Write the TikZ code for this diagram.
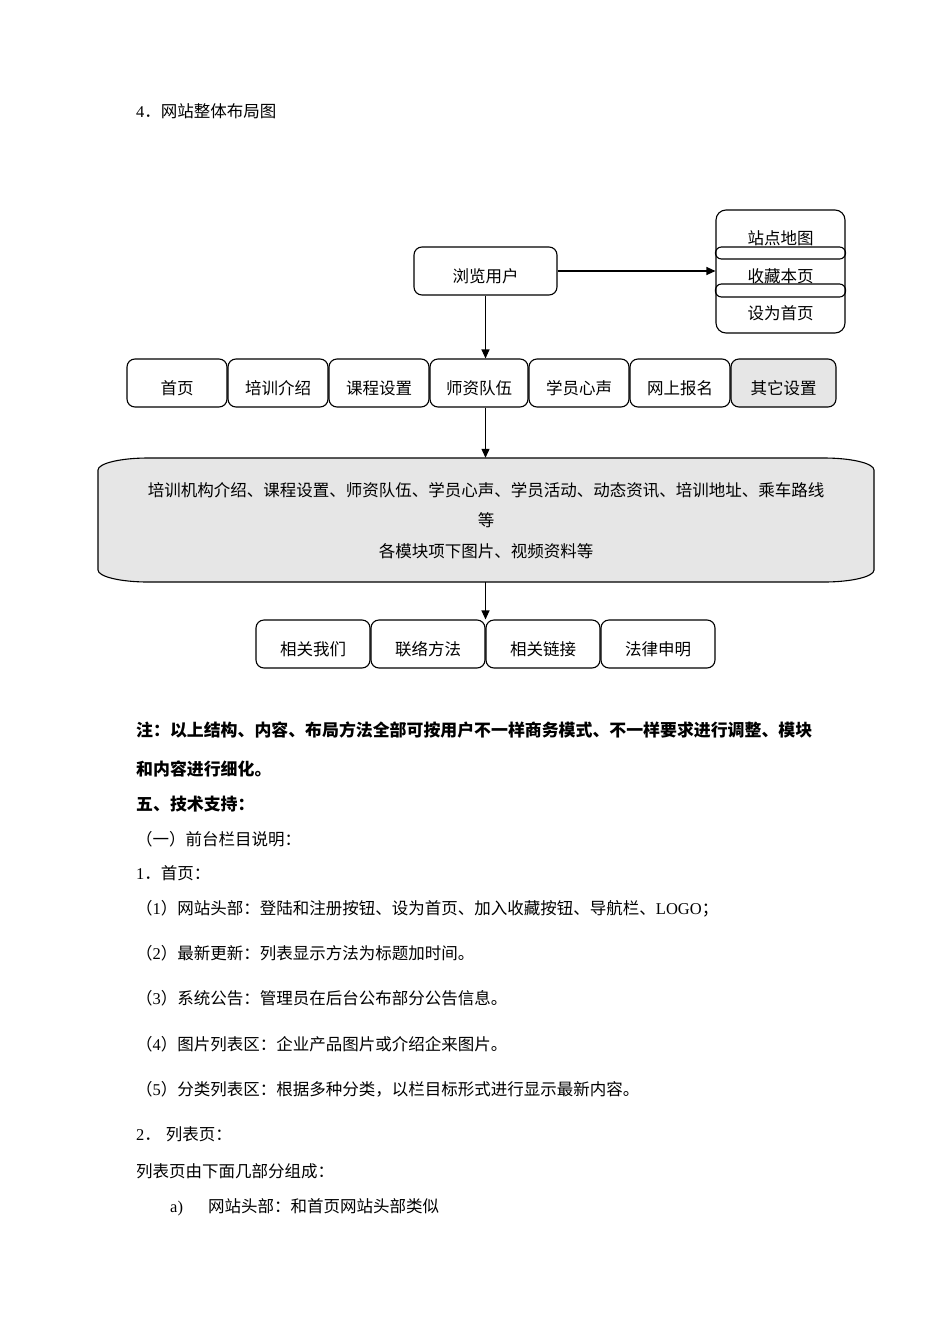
\documentclass[tikz,border=0pt]{standalone}
\usepackage{fontspec}
\setmainfont{Noto Sans CJK SC}
\newfontfamily\lat{Liberation Serif}
\usetikzlibrary{arrows.meta}
\definecolor{boxgray}{RGB}{230,230,230}
\begin{document}
\begin{tikzpicture}[x=1pt,y=-1pt,
  every node/.style={inner sep=0pt},
  txt/.style={font=\fontsize{16.5}{20}\selectfont},
  btxt/.style={font=\fontsize{16.9}{20}\selectfont\bfseries},
  box/.style={draw, line width=1.1pt, rounded corners=8pt, txt,
    text height=24pt, text depth=1pt, minimum height=48pt},
  arr/.style={-{Triangle[length=9pt,width=8pt]}, line width=1.1pt}]
\useasboundingbox (0,0) rectangle (950,1344);
\fill[white] (0,0) rectangle (950,1344);

% heading
\node[txt, anchor=base west] (h4) at (136,117) {{\lat 4}．网站整体布局图};

% browsing user
\node[box, minimum width=143pt] (user) at (485.5,271) {浏览用户};

% right stack
\node[draw, line width=1.1pt, rounded corners=10pt, minimum width=129pt, minimum height=123pt] (stack) at (780.5,271.5) {};
\node[txt] (s1) at (780.5,238) {站点地图};
\node[txt] (s2) at (780.5,276) {收藏本页};
\node[txt] (s3) at (780.5,313) {设为首页};
\draw[line width=1.1pt, rounded corners=6pt] (stack.west |- 0,247) rectangle (stack.east |- 0,259);
\draw[line width=1.1pt, rounded corners=6pt] (stack.west |- 0,284) rectangle (stack.east |- 0,297);

% navigation bar
\node[box, minimum width=100pt] (n1) at (177,383) {首页};
\node[box, minimum width=100pt] (n2) at (278,383) {培训介绍};
\node[box, minimum width=100pt] (n3) at (379,383) {课程设置};
\node[box, minimum width=98pt]  (n4) at (479,383) {师资队伍};
\node[box, minimum width=100pt] (n5) at (579,383) {学员心声};
\node[box, minimum width=100pt] (n6) at (680,383) {网上报名};
\node[box, minimum width=105pt, fill=boxgray] (n7) at (783.5,383) {其它设置};

% big content box
\filldraw[line width=1.1pt, fill=boxgray]
  (98,470) arc[start angle=180,end angle=270,x radius=50,y radius=12]
  -- (824,458) arc[start angle=270,end angle=360,x radius=50,y radius=12]
  -- (874,570) arc[start angle=0,end angle=90,x radius=50,y radius=12]
  -- (148,582) arc[start angle=90,end angle=180,x radius=50,y radius=12]
  -- cycle;
\node[minimum width=776pt, minimum height=124pt] (big) at (486,520) {};
\node[txt, anchor=base] (c1) at (486,496.5) {培训机构介绍、课程设置、师资队伍、学员心声、学员活动、动态资讯、培训地址、乘车路线};
\node[txt, anchor=base] (c2) at (486,526.5) {等};
\node[txt, anchor=base] (c3) at (486,557) {各模块项下图片、视频资料等};

% bottom boxes
\node[box, minimum width=114pt] (b1) at (313,644) {相关我们};
\node[box, minimum width=114pt] (b2) at (428,644) {联络方法};
\node[box, minimum width=114pt] (b3) at (543,644) {相关链接};
\node[box, minimum width=114pt] (b4) at (658,644) {法律申明};

% connectors
\draw[arr] (user.east) -- (stack.west |- user.east);
\draw[arr] (user.south) -- (user.south |- n4.north);
\draw[arr] (user.south |- n4.south) -- (user.south |- big.north);
\draw[arr] (user.south |- big.south) -- (user.south |- b3.north);

% text below
\node[btxt, anchor=base west] (t1) at (136,736) {注：以上结构、内容、布局方法全部可按用户不一样商务模式、不一样要求进行调整、模块};
\node[btxt, anchor=base west] (t2) at (136,775) {和内容进行细化。};
\node[btxt, anchor=base west] (t3) at (136,810) {五、技术支持：};
\node[txt, anchor=base west] (t4) at (136,845) {（一）前台栏目说明：};
\node[txt, anchor=base west] (t5) at (136,879) {{\lat 1}．首页：};
\node[txt, anchor=base west] (t6) at (136,914) {（{\lat 1}）网站头部：登陆和注册按钮、设为首页、加入收藏按钮、导航栏、{\lat LOGO}；};
\node[txt, anchor=base west] (t7) at (136,959) {（{\lat 2}）最新更新：列表显示方法为标题加时间。};
\node[txt, anchor=base west] (t8) at (136,1004) {（{\lat 3}）系统公告：管理员在后台公布部分公告信息。};
\node[txt, anchor=base west] (t9) at (136,1050) {（{\lat 4}）图片列表区：企业产品图片或介绍企来图片。};
\node[txt, anchor=base west] (t10) at (136,1095) {（{\lat 5}）分类列表区：根据多种分类，以栏目标形式进行显示最新内容。};
\node[txt, anchor=base west] (t11) at (136,1140) {{\lat 2}．\hspace{5pt}列表页：};
\node[txt, anchor=base west] (t12) at (136,1177) {列表页由下面几部分组成：};
\node[txt, anchor=base west] (t13) at (170,1212) {{\lat a)}};
\node[txt, anchor=base west] (t14) at (208,1212) {网站头部：和首页网站头部类似};
\end{tikzpicture}
\end{document}
